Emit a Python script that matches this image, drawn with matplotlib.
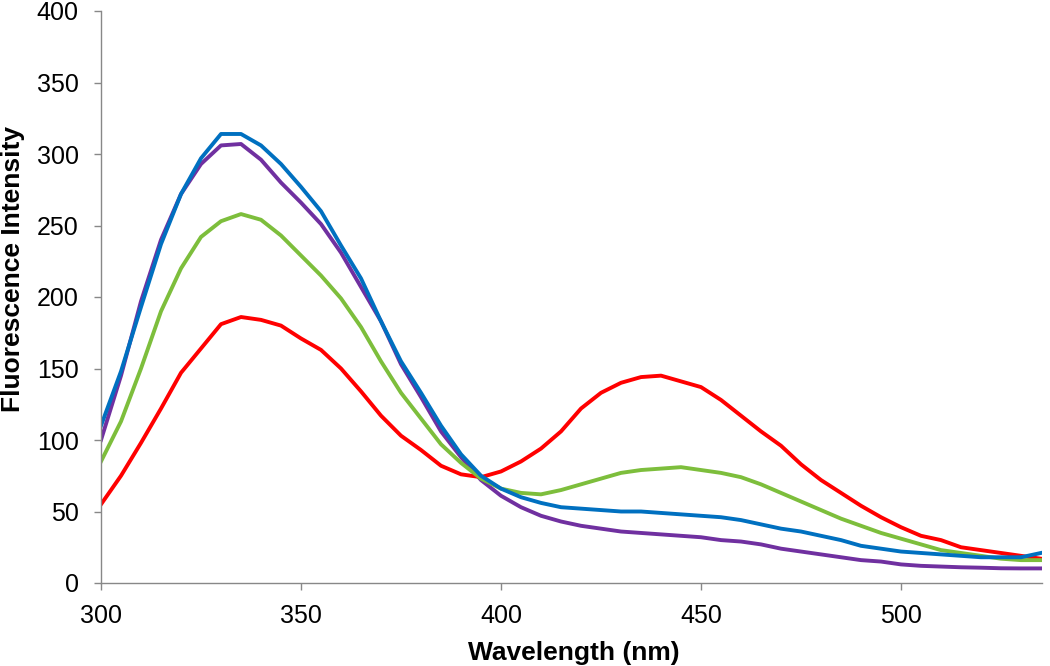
import matplotlib

matplotlib.use("Agg")
import matplotlib.pyplot as plt

plt.rcParams["font.family"] = ["Liberation Sans", "DejaVu Sans"]

# wavelength grid (nm) and readings for the four emission spectra
wavelength = list(range(300, 540, 5))

blue = [110, 148, 193, 237, 272, 297, 314, 314, 306, 293,
        277, 260, 236, 213, 183, 155, 133, 110, 90, 75,
        66, 60, 56, 53, 52, 51, 50, 50, 49, 48,
        47, 46, 44, 41, 38, 36, 33, 30, 26, 24,
        22, 21, 20, 19, 18, 18, 18, 21]

purple = [100, 145, 197, 240, 272, 293, 306, 307, 296, 280,
          266, 251, 231, 207, 183, 153, 130, 106, 88, 72,
          61, 53, 47, 43, 40, 38, 36, 35, 34, 33,
          32, 30, 29, 27, 24, 22, 20, 18, 16, 15,
          13, 12, 11.5, 11, 10.7, 10.3, 10.2, 10.2]

green = [85, 113, 150, 190, 220, 242, 253, 258, 254, 243,
         229, 215, 199, 179, 155, 133, 115, 97, 84, 73,
         66, 63, 62, 65, 69, 73, 77, 79, 80, 81,
         79, 77, 74, 69, 63, 57, 51, 45, 40, 35,
         31, 27, 23, 21, 19, 17, 16, 16]

red = [55, 75, 98, 122, 147, 164, 181, 186, 184, 180,
       171, 163, 150, 134, 117, 103, 93, 82, 76, 74,
       78, 85, 94, 106, 122, 133, 140, 144, 145, 141,
       137, 128, 117, 106, 96, 83, 72, 63, 54, 46,
       39, 33, 30, 25, 23, 21, 19, 17]

x_ticks = [300, 350, 400, 450, 500]
y_ticks = list(range(0, 401, 50))

fig = plt.figure(figsize=(10.5, 6.66), dpi=100)
ax = fig.add_axes([101 / 1050, 83 / 666, 941 / 1050, 572 / 666])

lw = 2.8
ax.plot(wavelength, purple, color="#7030A0", lw=lw)
ax.plot(wavelength, red, color="#FF0000", lw=lw)
ax.plot(wavelength, green, color="#7DBE3C", lw=lw)
ax.plot(wavelength, blue, color="#0070C0", lw=lw)

ax.set_xlim(300, 535.25)
ax.set_ylim(0, 400)
ax.set_xticks(x_ticks)
ax.set_yticks(y_ticks)

for side in ("top", "right"):
    ax.spines[side].set_visible(False)
for side in ("left", "bottom"):
    ax.spines[side].set_color("#888888")
    ax.spines[side].set_linewidth(1.0)

ax.tick_params(axis="both", direction="out", length=5, width=1.0,
               color="#888888", labelsize=18, labelcolor="black")
ax.tick_params(axis="x", pad=10)
ax.tick_params(axis="y", pad=11)

ax.set_xlabel("Wavelength (nm)", fontsize=19, fontweight="bold", va="center")
ax.set_ylabel("Fluorescence Intensity", fontsize=19, fontweight="bold", va="center")
ax.xaxis.set_label_coords(0.502, -0.122)
ax.yaxis.set_label_coords(-0.094, 0.549)

fig.savefig("out.png", dpi=100)
plt.close(fig)
